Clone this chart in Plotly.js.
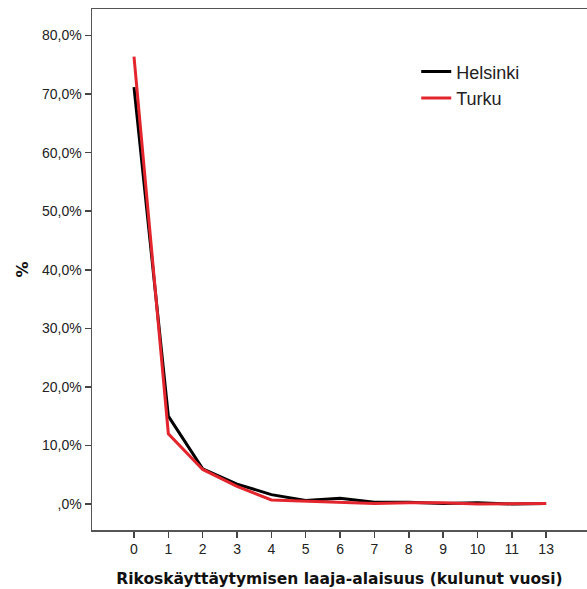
<!DOCTYPE html>
<html>
<head>
<meta charset="utf-8">
<script src="https://cdn.plot.ly/plotly-3.0.1.min.js"></script>
<style>html,body{margin:0;padding:0;background:#fff;}#chart{width:587px;height:589px;}</style>
</head>
<body>
<div id="chart"></div>
<script>
const categories = ["0","1","2","3","4","5","6","7","8","9","10","11","13"];
const helsinki = [71.2, 15.0, 6.0, 3.4, 1.6, 0.6, 1.0, 0.3, 0.3, 0.1, 0.2, 0.0, 0.1];
const turku    = [76.4, 12.0, 5.9, 3.0, 0.7, 0.5, 0.4, 0.1, 0.2, 0.2, 0.0, 0.1, 0.1];
const yTickVals = [0, 10, 20, 30, 40, 50, 60, 70, 80];
const yTickText = [",0%", "10,0%", "20,0%", "30,0%", "40,0%", "50,0%", "60,0%", "70,0%", "80,0%"];

const font = "Liberation Sans, Arial, sans-serif";
const boldFont = "DejaVu Sans, Verdana, sans-serif";
const data = [
  {x: categories, y: helsinki, type: "scatter", mode: "lines", name: "Helsinki",
   line: {color: "#000000", width: 3}},
  {x: categories, y: turku, type: "scatter", mode: "lines", name: "Turku",
   line: {color: "#e3262d", width: 3}}
];
const layout = {
  width: 587, height: 589,
  margin: {l: 92, r: 0, t: 9, b: 59},
  paper_bgcolor: "#fff", plot_bgcolor: "#fff",
  font: {family: font, color: "#222"},
  showlegend: true,
  legend: {x: 0.655, y: 0.915, xanchor: "left", yanchor: "top",
    font: {family: font, size: 18, color: "#222"}, bgcolor: "rgba(0,0,0,0)",
    tracegroupgap: 0, itemwidth: 30},
  xaxis: {
    type: "category", categoryorder: "array", categoryarray: categories,
    range: [-1.223, 13.19],
    showgrid: false, zeroline: false,
    showline: true, linecolor: "#555", linewidth: 1.5, mirror: true,
    ticks: "outside", ticklen: 6, tickwidth: 1.5, tickcolor: "#444",
    tickfont: {family: font, size: 14, color: "#222"},
    title: {text: "Rikoskäyttäytymisen laaja-alaisuus (kulunut vuosi)",
      font: {family: boldFont, size: 15.5, color: "#111", weight: "bold"}, standoff: 17},
    automargin: false
  },
  yaxis: {
    range: [-4.44, 84.53],
    tickvals: yTickVals, ticktext: yTickText,
    showgrid: false, zeroline: false,
    showline: true, linecolor: "#555", linewidth: 1.5,
    ticks: "outside", ticklen: 6, tickwidth: 1.5, tickcolor: "#444",
    tickfont: {family: font, size: 14, color: "#222"},
    title: {text: "%", font: {family: boldFont, size: 16, color: "#111", weight: "bold"}, standoff: 9},
    automargin: false
  }
};
Plotly.newPlot("chart", data, layout, {displayModeBar: false, staticPlot: true});
</script>
</body>
</html>
